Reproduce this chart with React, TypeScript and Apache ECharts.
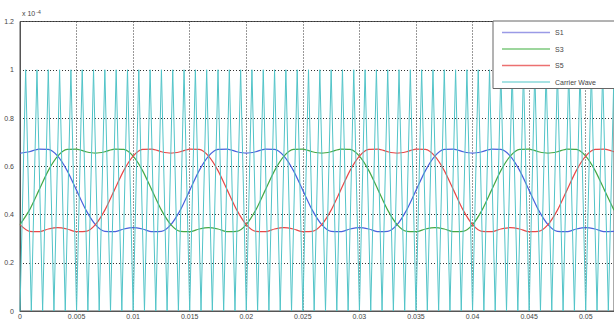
import React, { useEffect, useRef } from "react";
import * as echarts from "echarts";

// sample times (s) of the modulating waves
const sTimes = [
  0, 0.000833, 0.001667, 0.0025, 0.003333, 0.004167, 0.005, 0.005833, 0.006667, 0.0075,
  0.008333, 0.009167, 0.01, 0.010833, 0.011667, 0.0125, 0.013333, 0.014167, 0.015, 0.015833,
  0.016667, 0.0175, 0.018333, 0.019167, 0.02, 0.020833, 0.021667, 0.0225, 0.023333, 0.024167,
  0.025, 0.025833, 0.026667, 0.0275, 0.028333, 0.029167, 0.03, 0.030833, 0.031667, 0.0325,
  0.033333, 0.034167, 0.035, 0.035833, 0.036667, 0.0375, 0.038333, 0.039167, 0.04, 0.040833,
  0.041667, 0.0425, 0.043333, 0.044167, 0.045, 0.045833, 0.046667, 0.0475, 0.048333, 0.049167,
  0.05, 0.050833, 0.051667, 0.0525,
];

const s1 = [
  0.654, 0.66, 0.671, 0.67, 0.642, 0.582, 0.5, 0.418, 0.358, 0.33, 0.329, 0.34, 0.346, 0.34, 0.329, 0.33, 0.358, 0.418, 0.5, 0.582, 0.642, 0.67, 0.671, 0.66,
  0.654, 0.66, 0.671, 0.67, 0.642, 0.582, 0.5, 0.418, 0.358, 0.33, 0.329, 0.34, 0.346, 0.34, 0.329, 0.33, 0.358, 0.418, 0.5, 0.582, 0.642, 0.67, 0.671, 0.66,
  0.654, 0.66, 0.671, 0.67, 0.642, 0.582, 0.5, 0.418, 0.358, 0.33, 0.329, 0.34, 0.346, 0.34, 0.329, 0.33,
];

const s3 = [
  0.358, 0.418, 0.5, 0.582, 0.642, 0.67, 0.671, 0.66, 0.654, 0.66, 0.671, 0.67, 0.642, 0.582, 0.5, 0.418, 0.358, 0.33, 0.329, 0.34, 0.346, 0.34, 0.329, 0.33,
  0.358, 0.418, 0.5, 0.582, 0.642, 0.67, 0.671, 0.66, 0.654, 0.66, 0.671, 0.67, 0.642, 0.582, 0.5, 0.418, 0.358, 0.33, 0.329, 0.34, 0.346, 0.34, 0.329, 0.33,
  0.358, 0.418, 0.5, 0.582, 0.642, 0.67, 0.671, 0.66, 0.654, 0.66, 0.671, 0.67, 0.642, 0.582, 0.5, 0.418,
];

const s5 = [
  0.358, 0.33, 0.329, 0.34, 0.346, 0.34, 0.329, 0.33, 0.358, 0.418, 0.5, 0.582, 0.642, 0.67, 0.671, 0.66, 0.654, 0.66, 0.671, 0.67, 0.642, 0.582, 0.5, 0.418,
  0.358, 0.33, 0.329, 0.34, 0.346, 0.34, 0.329, 0.33, 0.358, 0.418, 0.5, 0.582, 0.642, 0.67, 0.671, 0.66, 0.654, 0.66, 0.671, 0.67, 0.642, 0.582, 0.5, 0.418,
  0.358, 0.33, 0.329, 0.34, 0.346, 0.34, 0.329, 0.33, 0.358, 0.418, 0.5, 0.582, 0.642, 0.67, 0.671, 0.66,
];

// carrier wave vertices (s)
const carrierTimes = [
  0, 0.0005, 0.001, 0.0015, 0.002, 0.0025, 0.003, 0.0035, 0.004, 0.0045,
  0.005, 0.0055, 0.006, 0.0065, 0.007, 0.0075, 0.008, 0.0085, 0.009, 0.0095,
  0.01, 0.0105, 0.011, 0.0115, 0.012, 0.0125, 0.013, 0.0135, 0.014, 0.0145,
  0.015, 0.0155, 0.016, 0.0165, 0.017, 0.0175, 0.018, 0.0185, 0.019, 0.0195,
  0.02, 0.0205, 0.021, 0.0215, 0.022, 0.0225, 0.023, 0.0235, 0.024, 0.0245,
  0.025, 0.0255, 0.026, 0.0265, 0.027, 0.0275, 0.028, 0.0285, 0.029, 0.0295,
  0.03, 0.0305, 0.031, 0.0315, 0.032, 0.0325, 0.033, 0.0335, 0.034, 0.0345,
  0.035, 0.0355, 0.036, 0.0365, 0.037, 0.0375, 0.038, 0.0385, 0.039, 0.0395,
  0.04, 0.0405, 0.041, 0.0415, 0.042, 0.0425, 0.043, 0.0435, 0.044, 0.0445,
  0.045, 0.0455, 0.046, 0.0465, 0.047, 0.0475, 0.048, 0.0485, 0.049, 0.0495,
  0.05, 0.0505, 0.051, 0.0515, 0.052, 0.0525,
];
const carrierValues = [
  0, 1, 0, 1, 0, 1, 0, 1, 0, 1,
  0, 1, 0, 1, 0, 1, 0, 1, 0, 1,
  0, 1, 0, 1, 0, 1, 0, 1, 0, 1,
  0, 1, 0, 1, 0, 1, 0, 1, 0, 1,
  0, 1, 0, 1, 0, 1, 0, 1, 0, 1,
  0, 1, 0, 1, 0, 1, 0, 1, 0, 1,
  0, 1, 0, 1, 0, 1, 0, 1, 0, 1,
  0, 1, 0, 1, 0, 1, 0, 1, 0, 1,
  0, 1, 0, 1, 0, 1, 0, 1, 0, 1,
  0, 1, 0, 1, 0, 1, 0, 1, 0, 1,
  0, 1, 0, 1, 0, 1,
];

const seriesNames = ["S1", "S3", "S5", "Carrier Wave"];
const seriesColors = ["#4a62dc", "#45a845", "#e84848", "#52c4c8"];
const legendColors = ["#9a9ae6", "#7cc87c", "#ec7070", "#8ad8da"];

const FONT = "Liberation Sans, Arial, sans-serif";

export default function App() {
  const ref = useRef<HTMLDivElement>(null);

  useEffect(() => {
    if (!ref.current) return;
    const chart = echarts.init(ref.current, null, { renderer: "svg" });
    const waves = [s1, s3, s5];
    const series: any[] = waves.map((vals, k) => ({
      name: seriesNames[k],
      type: "line",
      data: vals.map((v, i) => [sTimes[i], v]),
      symbol: "none",
      smooth: 0.25,
      lineStyle: { color: seriesColors[k], width: 1.2 },
      itemStyle: { color: legendColors[k] },
      z: 2,
    }));
    series.push({
      name: seriesNames[3],
      type: "line",
      data: carrierValues.map((v, i) => [carrierTimes[i], v]),
      symbol: "none",
      lineStyle: { color: seriesColors[3], width: 1 },
      itemStyle: { color: legendColors[3] },
      z: 3,
    });

    chart.setOption({
      animation: false,
      backgroundColor: "#ffffff",
      grid: {
        left: 20,
        top: 21.5,
        right: -2,
        bottom: 8.5,
        show: true,
        borderColor: "#555",
        borderWidth: 1,
        backgroundColor: "transparent",
      },
      xAxis: {
        type: "value",
        min: 0,
        max: 0.0525,
        interval: 0.005,
        axisLine: { show: true, lineStyle: { color: "#555", width: 1 } },
        axisTick: { show: false },
        axisLabel: {
          fontFamily: FONT,
          fontSize: 7,
          color: "#444",
          margin: 2,
          showMaxLabel: false,
          formatter: (v: number) => String(+v.toFixed(4)),
        },
        splitLine: { show: true, lineStyle: { color: "#333", type: [1, 2], width: 1 } },
      },
      yAxis: {
        type: "value",
        min: 0,
        max: 1.2,
        interval: 0.2,
        axisLine: { show: true, lineStyle: { color: "#555", width: 1 } },
        axisTick: { show: false },
        axisLabel: {
          fontFamily: FONT,
          fontSize: 7,
          color: "#444",
          margin: 6,
          formatter: (v: number) => String(+v.toFixed(2)),
        },
        splitLine: { show: true, lineStyle: { color: "#333", type: [1, 2], width: 1 } },
      },
      legend: {
        data: seriesNames,
        orient: "vertical",
        left: 493,
        top: 21,
        icon: "rect",
        itemWidth: 48,
        itemHeight: 1.5,
        itemGap: 9.5,
        padding: [8, 70, 3, 9],
        backgroundColor: "#ffffff",
        borderColor: "#666",
        borderWidth: 1,
        borderRadius: 0,
        textStyle: { fontFamily: FONT, fontSize: 7, color: "#444" },
        selectedMode: false,
      },
      graphic: [
        {
          type: "text",
          left: 22,
          top: 9,
          style: {
            text: "{b|x 10}{s|-4}",
            rich: {
              b: { fontFamily: FONT, fontSize: 7, fill: "#444" },
              s: { fontFamily: FONT, fontSize: 5, fill: "#444", verticalAlign: "top", padding: [0, 0, 4, 1] },
            },
          },
        },
      ],
      series,
    });
    return () => chart.dispose();
  }, []);

  return (
    <div
      ref={ref}
      style={{ position: "fixed", left: 0, top: 0, width: 614, height: 320, background: "#fff" }}
    />
  );
}
